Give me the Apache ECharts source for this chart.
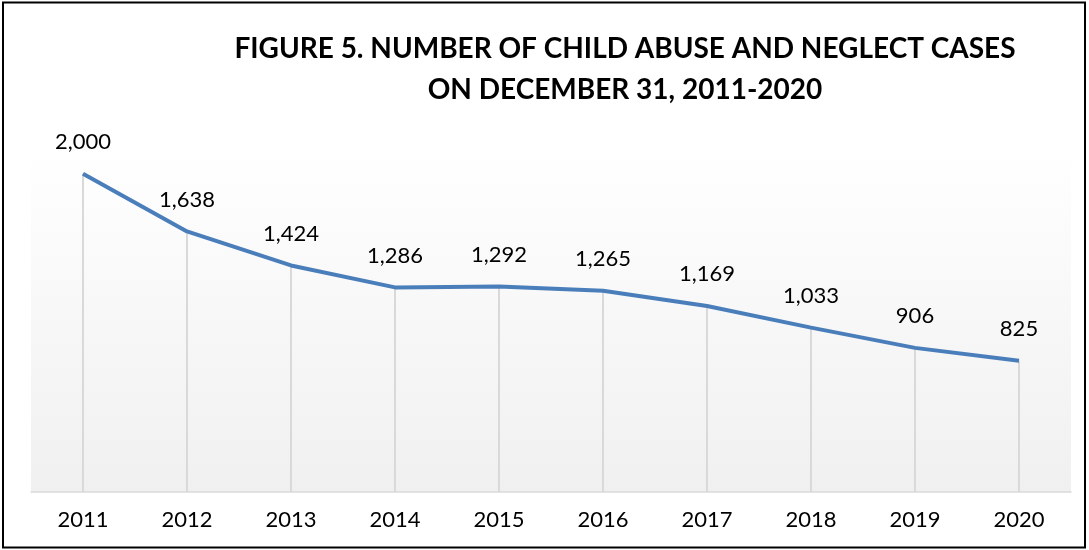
<!DOCTYPE html>
<html>
<head>
<meta charset="utf-8">
<script src="https://cdn.jsdelivr.net/npm/echarts@6/dist/echarts.min.js"></script>
<style>
  html, body { margin: 0; padding: 0; background: #fff; }
  #chart { width: 1089px; height: 550px; }
</style>
</head>
<body>
<div id="chart"></div>
<script>
const titleLines = ['FIGURE 5. NUMBER OF CHILD ABUSE AND NEGLECT CASES', 'ON DECEMBER 31, 2011-2020'];
const years = ['2011', '2012', '2013', '2014', '2015', '2016', '2017', '2018', '2019', '2020'];
const cases = [2000, 1638, 1424, 1286, 1292, 1265, 1169, 1033, 906, 825];

const chart = echarts.init(document.getElementById('chart'), null, { renderer: 'canvas' });
const FONT = 'Lato, "Open Sans", sans-serif';

chart.setOption({
  animation: false,
  backgroundColor: '#ffffff',
  title: {
    text: titleLines.join('\n'),
    left: 620,
    top: 23,
    textAlign: 'center',
    textStyle: {
      fontFamily: FONT,
      fontWeight: 'bold',
      fontSize: 28,
      lineHeight: 41,
      color: '#000000'
    }
  },
  grid: {
    left: 31,
    right: 18,
    top: 142,
    bottom: 58,
    show: true,
    borderWidth: 0,
    backgroundColor: new echarts.graphic.LinearGradient(0, 0, 0, 1, [
      { offset: 0, color: '#ffffff' },
      { offset: 1, color: '#f0f0f0' }
    ])
  },
  xAxis: {
    type: 'category',
    data: years,
    boundaryGap: true,
    axisLine: { show: true, lineStyle: { color: '#d9d9d9', width: 1.5 } },
    axisTick: { show: false },
    splitLine: { show: false },
    axisLabel: {
      color: '#000000',
      fontFamily: FONT,
      fontSize: 22,
      margin: 17
    }
  },
  yAxis: {
    type: 'value',
    min: 0,
    max: 2200,
    show: false,
    splitLine: { show: false }
  },
  series: [
    {
      name: 'drop',
      type: 'bar',
      data: cases,
      barWidth: 2,
      silent: true,
      itemStyle: { color: '#d9d9d9' },
      z: 1,
      label: {
        show: true,
        position: 'top',
        distance: 21,
        color: '#000000',
        fontFamily: FONT,
        fontSize: 22,
        formatter: function (p) { return p.value.toLocaleString('en-US'); }
      }
    },
    {
      name: 'Cases',
      type: 'line',
      data: cases,
      symbol: 'none',
      lineStyle: { color: '#4a7ebb', width: 4 },
      z: 3
    }
  ],
  graphic: [
    {
      type: 'rect',
      shape: { x: 3, y: 2.5, width: 1082, height: 545 },
      style: { fill: 'none', stroke: '#000000', lineWidth: 2 },
      silent: true,
      z: 10
    }
  ]
});
</script>
</body>
</html>
